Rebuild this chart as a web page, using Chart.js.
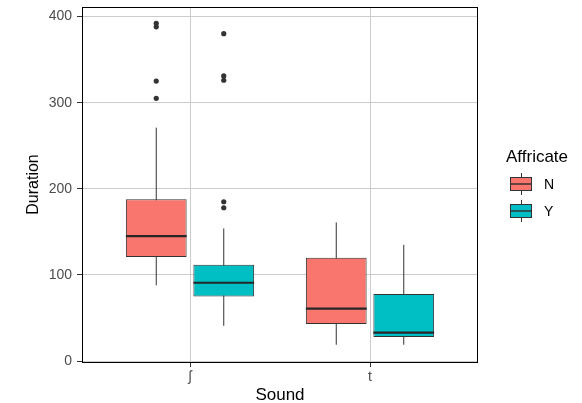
<!DOCTYPE html>
<html>
<head>
<meta charset="utf-8">
<script src="https://cdn.jsdelivr.net/npm/chart.js@4.4.1/dist/chart.umd.min.js"></script>
<style>
  body { margin: 0; background: #fff; }
  #wrap { width: 582px; height: 403px; }
</style>
</head>
<body>
<div id="wrap"><canvas id="myChart"></canvas></div>
<script>
const sounds = ['ʃ', 't']
const groups = ['N', 'Y']
const fills = ['#F8766D', '#00BFC4']
// per sound: [lower whisker, Q1, median, Q3, upper whisker]
const statsN = [[88, 121, 145, 188, 271], [19, 43, 61, 120, 161]]
const statsY = [[41, 75, 91, 112, 154], [19, 28, 33, 78, 135]]
const outliersN = [[305, 325, 388, 392], []]
const outliersY = [[178, 185, 326, 331, 380], []]
const yTicks = [0, 100, 200, 300, 400]

const dodge = 0.1875
const halfBox = 0.16875
const ink = '#333333'

let datasets = []
const addGroup = (stats, outs, gi) => {
  const off = gi === 0 ? -dodge : dodge
  const whisk = []
  const med = []
  const pts = []
  stats.forEach((s, i) => {
    const x = i + 1 + off
    whisk.push({x: x, y: s[0]}, {x: x, y: s[4]}, {x: x, y: null})
    med.push({x: x - halfBox, y: s[2]}, {x: x + halfBox, y: s[2]}, {x: x, y: null})
    outs[i].forEach((v) => pts.push({x: x, y: v}))
  })
  datasets.push({
    type: 'bar',
    label: groups[gi],
    data: stats.map((s, i) => ({x: i + 1 + off, y: [s[1], s[3]]})),
    backgroundColor: fills[gi],
    borderColor: ink,
    borderWidth: 1,
    borderSkipped: false,
    grouped: false,
    categoryPercentage: 1,
    barPercentage: 0.9,
    order: 2
  })
  datasets.push({
    type: 'line', data: whisk, borderColor: ink, borderWidth: 1,
    pointRadius: 0, spanGaps: false, order: 3
  })
  datasets.push({
    type: 'line', data: med, borderColor: '#262626', borderWidth: 2.2,
    pointRadius: 0, spanGaps: false, order: 1
  })
  datasets.push({
    type: 'scatter', data: pts, backgroundColor: ink, borderColor: ink,
    pointRadius: 2.6, borderWidth: 0, order: 0
  })
}
addGroup(statsN, outliersN, 0)
addGroup(statsY, outliersY, 1)

const panelAndLegend = {
  id: 'panelAndLegend',
  afterDraw(chart) {
    const {ctx, chartArea} = chart
    ctx.save()
    ctx.strokeStyle = '#000'
    ctx.lineWidth = 1
    ctx.strokeRect(chartArea.left + 0.5, chartArea.top + 0.5,
      chartArea.right - chartArea.left - 1, chartArea.bottom - chartArea.top)
    // legend
    ctx.fillStyle = '#000'
    ctx.font = '17px "Liberation Sans", Arial, sans-serif'
    ctx.textBaseline = 'middle'
    ctx.fillText('Affricate', 506, 157)
    groups.forEach((g, i) => {
      const cy = 184 + i * 27
      const x0 = 510
      ctx.strokeStyle = ink
      ctx.lineWidth = 1
      ctx.beginPath()
      ctx.moveTo(x0 + 11.5, cy - 11)
      ctx.lineTo(x0 + 11.5, cy + 11)
      ctx.stroke()
      ctx.fillStyle = fills[i]
      ctx.fillRect(x0, cy - 7, 22, 14)
      ctx.strokeRect(x0 + 0.5, cy - 6.5, 21, 13)
      ctx.lineWidth = 1.5
      ctx.beginPath()
      ctx.moveTo(x0, cy)
      ctx.lineTo(x0 + 22, cy)
      ctx.stroke()
      ctx.fillStyle = '#000'
      ctx.font = '14px "Liberation Sans", Arial, sans-serif'
      ctx.fillText(g, 544, cy + 1)
    })
    ctx.restore()
  }
}

const tickFont = {family: '"Liberation Sans", Arial, sans-serif', size: 14}
const fam = '"Liberation Sans", Arial, sans-serif'

new Chart(document.querySelector('#myChart'), {
  data: {datasets: datasets},
  options: {
    responsive: true,
    maintainAspectRatio: false,
    animation: false,
    layout: {padding: {top: 7, right: 104, left: 0, bottom: 0}},
    plugins: {legend: {display: false}, tooltip: {enabled: false}},
    scales: {
      x: {
        type: 'linear',
        min: 0.4,
        max: 2.6,
        offset: false,
        afterBuildTicks: (axis) => { axis.ticks = sounds.map((s, i) => ({value: i + 1})) },
        afterFit: (axis) => {
          axis.height = 41
          axis.paddingLeft = 0
          axis.paddingRight = 0
        },
        ticks: {
          callback: (v) => sounds[v - 1],
          color: '#4d4d4d',
          font: tickFont,
          padding: 2,
          maxRotation: 0
        },
        grid: {color: '#cccccc', tickColor: ink, tickLength: 5, offset: false},
        border: {display: false},
        title: {display: true, text: 'Sound', color: '#000', font: {family: fam, size: 17}, padding: {top: 4, bottom: -3}}
      },
      y: {
        type: 'linear',
        min: -1,
        max: 411,
        afterBuildTicks: (axis) => { axis.ticks = yTicks.map((v) => ({value: v})) },
        afterFit: (axis) => {
          axis.width = 82
          axis.paddingTop = 0
          axis.paddingBottom = 0
        },
        ticks: {color: '#4d4d4d', font: tickFont, padding: 5},
        grid: {color: '#cccccc', tickColor: ink, tickLength: 5},
        border: {display: false},
        title: {display: true, text: 'Duration', color: '#000', font: {family: fam, size: 16}, padding: {top: 24, bottom: 0}}
      }
    }
  },
  plugins: [panelAndLegend]
})
</script>
</body>
</html>
